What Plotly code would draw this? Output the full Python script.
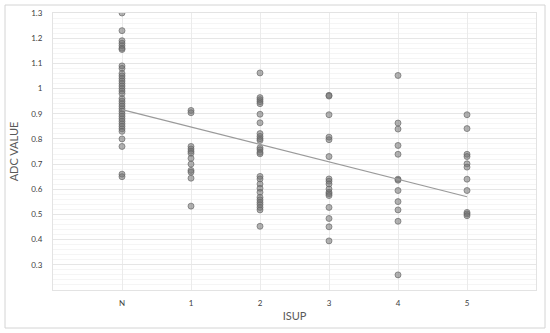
import numpy as np
import plotly.graph_objects as go

categories = ["N", "1", "2", "3", "4", "5"]

adc_N = [1.30, 1.23, 1.19, 1.18, 1.17, 1.16, 1.155, 1.09, 1.08, 1.06, 1.05, 1.04,
         1.03, 1.02, 1.01, 1.00, 0.99, 0.98, 0.96, 0.95, 0.94, 0.93, 0.92, 0.91,
         0.90, 0.89, 0.88, 0.87, 0.86, 0.85, 0.84, 0.83, 0.80, 0.77, 0.66, 0.65]
adc_1 = [0.913, 0.904, 0.77, 0.76, 0.751, 0.743, 0.723, 0.70, 0.675, 0.668, 0.644, 0.533]
adc_2 = [1.062, 0.964, 0.956, 0.948, 0.940, 0.898, 0.864, 0.821, 0.810, 0.801, 0.794,
         0.765, 0.757, 0.747, 0.741, 0.651, 0.641, 0.621, 0.604, 0.588, 0.568, 0.558,
         0.548, 0.539, 0.528, 0.518, 0.453]
adc_3 = [0.973, 0.970, 0.896, 0.807, 0.797, 0.730, 0.641, 0.632, 0.621, 0.601, 0.588,
         0.582, 0.575, 0.528, 0.484, 0.451, 0.395]
adc_4 = [1.052, 0.863, 0.839, 0.774, 0.739, 0.640, 0.636, 0.595, 0.551, 0.518, 0.473, 0.260]
adc_5 = [0.896, 0.841, 0.739, 0.730, 0.701, 0.688, 0.640, 0.595, 0.508, 0.502, 0.495]

groups = [adc_N, adc_1, adc_2, adc_3, adc_4, adc_5]
x_codes = list(range(1, len(categories) + 1))

xs, ys = [], []
for code, vals in zip(x_codes, groups):
    xs += [code] * len(vals)
    ys += vals
xs = np.array(xs, dtype=float)
ys = np.array(ys, dtype=float)

slope, intercept = np.polyfit(xs, ys, 1)
trend_x = np.array([x_codes[0], x_codes[-1]], dtype=float)
trend_y = intercept + slope * trend_x

W, H = 550, 333
ml, mr, mt, mb = 53, 14, 13, 43

fig = go.Figure()
fig.add_trace(go.Scatter(
    x=xs, y=ys, mode="markers",
    marker=dict(size=6, color="rgba(115,115,115,0.55)",
                line=dict(width=1, color="rgba(100,100,100,0.65)")),
    showlegend=False, hoverinfo="skip"))
fig.add_trace(go.Scatter(
    x=trend_x, y=trend_y, mode="lines",
    line=dict(color="#9a9a9a", width=1.2),
    showlegend=False, hoverinfo="skip"))

pw = W - ml - mr
ph = H - mt - mb
fx0 = (5 - ml) / pw
fx1 = (W - 5 - ml) / pw
fy0 = (H - mb - (H - 5)) / ph
fy1 = (H - mb - 5) / ph
fig.add_shape(type="rect", xref="paper", yref="paper",
              x0=fx0, x1=fx1, y0=fy0, y1=fy1,
              line=dict(color="#d4d4d4", width=1), layer="above")

fig.update_layout(
    width=W, height=H,
    margin=dict(l=ml, r=mr, t=mt, b=mb, autoexpand=False),
    paper_bgcolor="white", plot_bgcolor="white",
    hovermode=False,
    font=dict(family="Lato, 'Open Sans', sans-serif", color="#595959"),
)
fig.update_xaxes(
    range=[0, len(categories) + 1],
    tickvals=x_codes, ticktext=categories,
    tickfont=dict(size=8, color="#404040"),
    showgrid=True, gridcolor="#ebebeb", gridwidth=1,
    zeroline=False, showline=True, linecolor="#e3e3e3", mirror=True,
    ticks="", ticklabelstandoff=5, automargin=False,
    title=dict(text="ISUP", font=dict(size=11, color="#595959"), standoff=5),
)
fig.update_yaxes(
    range=[0.2, 1.3],
    tickvals=[0.3, 0.4, 0.5, 0.6, 0.7, 0.8, 0.9, 1.0, 1.1, 1.2, 1.3],
    ticktext=["0.3", "0.4", "0.5", "0.6", "0.7", "0.8", "0.9", "1", "1.1", "1.2", "1.3"],
    tickfont=dict(size=8, color="#404040"),
    showgrid=True, gridcolor="#e6e6e6", gridwidth=1,
    minor=dict(dtick=0.02, showgrid=True, gridcolor="#f5f5f5", gridwidth=1),
    zeroline=False, showline=True, linecolor="#e3e3e3", mirror=True,
    ticks="", ticklabelstandoff=8, automargin=False,
    title=dict(text="ADC VALUE", font=dict(size=11, color="#595959"), standoff=10),
)

fig.write_html("out.html", config={"displayModeBar": False, "staticPlot": True},
               post_script="document.body.style.margin='0px';")
